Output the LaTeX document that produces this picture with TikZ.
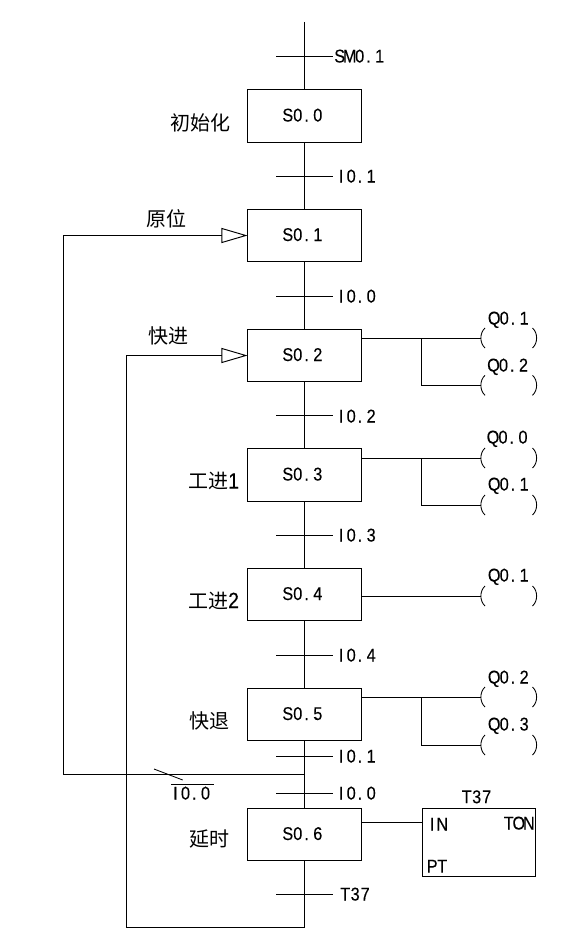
\documentclass[tikz,border=0pt]{standalone}
\usepackage{fontspec}
\usetikzlibrary{arrows.meta}
\setmainfont{Noto Sans CJK SC}
\newfontfamily\latinmono[FakeStretch=0.88,FakeBold=0.12]{Liberation Sans}
\newcommand{\cellch}[1]{\ifx#1.\makebox[10pt][l]{\kern1.5pt.}\else\makebox[10pt][c]{#1}\fi}
\makeatletter
\newcommand{\mono}[1]{\begingroup\latinmono\fontsize{18.5pt}{18.5pt}\selectfont\@tfor\cc:=#1\do{\expandafter\cellch\expandafter{\cc}}\endgroup}
\makeatother
\newcommand{\cndigit}[1]{{\latinmono\fontsize{22pt}{22pt}\selectfont #1}}
\tikzset{
  line/.style={line width=0.95pt,line join=miter},
  stepbox/.style={draw,line width=0.95pt,fill=white,minimum width=113.7pt,minimum height=52.5pt,inner sep=0pt,
     text height=13pt,text depth=2pt},
  tag/.style={inner sep=0pt,text height=13pt,text depth=0pt},
  cn/.style={inner sep=0pt,font=\fontsize{20pt}{20pt}\selectfont},
  flow/.style={line,-{Triangle[open,length=26pt,width=15pt,line width=0.95pt]}},
  coilarc/.style={line width=0.85pt},
}
\newcommand{\coil}[2]{%
  \coordinate (#1) at (481,#2);
  \draw[coilarc] (485,#2-10) .. controls (479.5,#2-5) and (479.5,#2+5) .. (485,#2+10);
  \draw[coilarc] (532.5,#2-10) .. controls (538,#2-5) and (538,#2+5) .. (532.5,#2+10);
}
\newcommand{\tick}[2]{%
  \coordinate (#1a) at (276,#2);
  \coordinate (#1b) at (333,#2);
  \draw[line] (#1a) -- (#1b);
}
\begin{document}
\begin{tikzpicture}[x=1pt,y=-1pt]
\useasboundingbox[fill=white] (0,0) rectangle (587,950);
% step boxes
\node[stepbox] (s0) at (304.8,116) {\mono{S0.0}\kern4pt};
\node[stepbox] (s1) at (304.8,235.5) {\mono{S0.1}\kern4pt};
\node[stepbox] (s2) at (304.8,355.5) {\mono{S0.2}\kern4pt};
\node[stepbox] (s3) at (304.8,475) {\mono{S0.3}\kern4pt};
\node[stepbox] (s4) at (304.8,594.5) {\mono{S0.4}\kern4pt};
\node[stepbox] (s5) at (304.8,714.5) {\mono{S0.5}\kern4pt};
\node[stepbox] (s6) at (304.8,834.5) {\mono{S0.6}\kern4pt};
% main line
\coordinate (top) at (304.8,22);
\coordinate (jl) at (304.8,774);
\coordinate (bot) at (304.8,927);
\coordinate (ll) at (63.5,774);
\coordinate (bl) at (126.7,927);
\draw[line] (top) -- (s0.north);
\draw[line] (s0.south) -- (s1.north);
\draw[line] (s1.south) -- (s2.north);
\draw[line] (s2.south) -- (s3.north);
\draw[line] (s3.south) -- (s4.north);
\draw[line] (s4.south) -- (s5.north);
\draw[line] (s5.south) -- (s6.north);
\draw[line] (s6.south) -- (bot);
% ticks
\tick{t0}{56}
\tick{t1}{176}
\tick{t2}{296}
\tick{t3}{415}
\tick{t4}{535}
\tick{t5}{655}
\tick{t6}{756}
\tick{t7}{793}
\tick{t8}{894}
% return lines
\draw[flow] (jl) -- (ll) -- (ll |- s1.west) -- (s1.west);
\draw[flow] (bot) -- (bl) -- (bl |- s2.west) -- (s2.west);
% slash and overline
\coordinate (sa) at (154,769);
\coordinate (sb) at (182.7,780);
\draw[line,line width=0.85pt] (sa) -- (sb);
\coordinate (oa) at (171,784);
\coordinate (ob) at (213.7,784);
\draw[line,line width=0.85pt] (oa) -- (ob);
% transition labels
\node[tag,anchor=west] (l0) at (334.5,56) {\mono{SM0.1}};
\node[tag,anchor=west] (l1) at (336,176) {\mono{I0.1}};
\node[tag,anchor=west] (l2) at (336,296) {\mono{I0.0}};
\node[tag,anchor=west] (l3) at (336,416) {\mono{I0.2}};
\node[tag,anchor=west] (l4) at (336,535) {\mono{I0.3}};
\node[tag,anchor=west] (l5) at (336,655) {\mono{I0.4}};
\node[tag,anchor=west] (l6) at (336,756) {\mono{I0.1}};
\node[tag,anchor=west] (l7) at (336,793) {\mono{I0.0}};
\node[tag,anchor=west] (l8) at (340,894) {\mono{T37}};
\node[tag] (l9) at (190.5,793) {\mono{I0.0}};
% chinese labels
\node[cn] (c0) at (200,123) {初始化};
\node[cn] (c1) at (166,219) {原位};
\node[cn] (c2) at (168,336) {快进};
\node[cn,anchor=west] (c3) at (188,481) {工进\cndigit{1}};
\node[cn,anchor=west] (c4) at (188,600.5) {工进\cndigit{2}};
\node[cn] (c5) at (209,721) {快退};
\node[cn] (c6) at (209,839) {延时};
% coils
\coil{q1}{338}
\coil{q2}{385.3}
\coil{q3}{458}
\coil{q4}{505}
\coil{q5}{596}
\coil{q6}{697}
\coil{q7}{745}
\coordinate (b2) at (421.3,338);
\coordinate (b3) at (421.3,458);
\coordinate (b5) at (421.3,697);
\draw[line] (q1 -| s2.east) -- (q1);
\draw[line] (b2) -- (b2 |- q2) -- (q2);
\draw[line] (q3 -| s3.east) -- (q3);
\draw[line] (b3) -- (b3 |- q4) -- (q4);
\draw[line] (q5 -| s4.east) -- (q5);
\draw[line] (q6 -| s5.east) -- (q6);
\draw[line] (b5) -- (b5 |- q7) -- (q7);
\node[tag] (ql1) at (509.2,318) {\mono{Q0.1}};
\node[tag] (ql2) at (508.5,365) {\mono{Q0.2}};
\node[tag] (ql3) at (508,437) {\mono{Q0.0}};
\node[tag] (ql4) at (509.2,484) {\mono{Q0.1}};
\node[tag] (ql5) at (509.2,575) {\mono{Q0.1}};
\node[tag] (ql6) at (509.2,677) {\mono{Q0.2}};
\node[tag] (ql7) at (509.2,724) {\mono{Q0.3}};
% timer
\node[draw,line width=0.95pt,minimum width=113pt,minimum height=68pt,inner sep=0pt] (tm) at (478.8,842.3) {};
\coordinate (tin) at (tm.west |- 0,822.3);
\draw[line] (tin -| s6.east) -- (tin);
\node[tag] (tt) at (476.7,796.7) {\mono{T37}};
\node[tag,anchor=west] (tn) at (427,824) {\mono{IN}};
\node[tag,anchor=east] (to) at (534,823) {\mono{TON}};
\node[tag,anchor=west] (tp) at (427,866) {\mono{PT}};
\end{tikzpicture}
\end{document}
